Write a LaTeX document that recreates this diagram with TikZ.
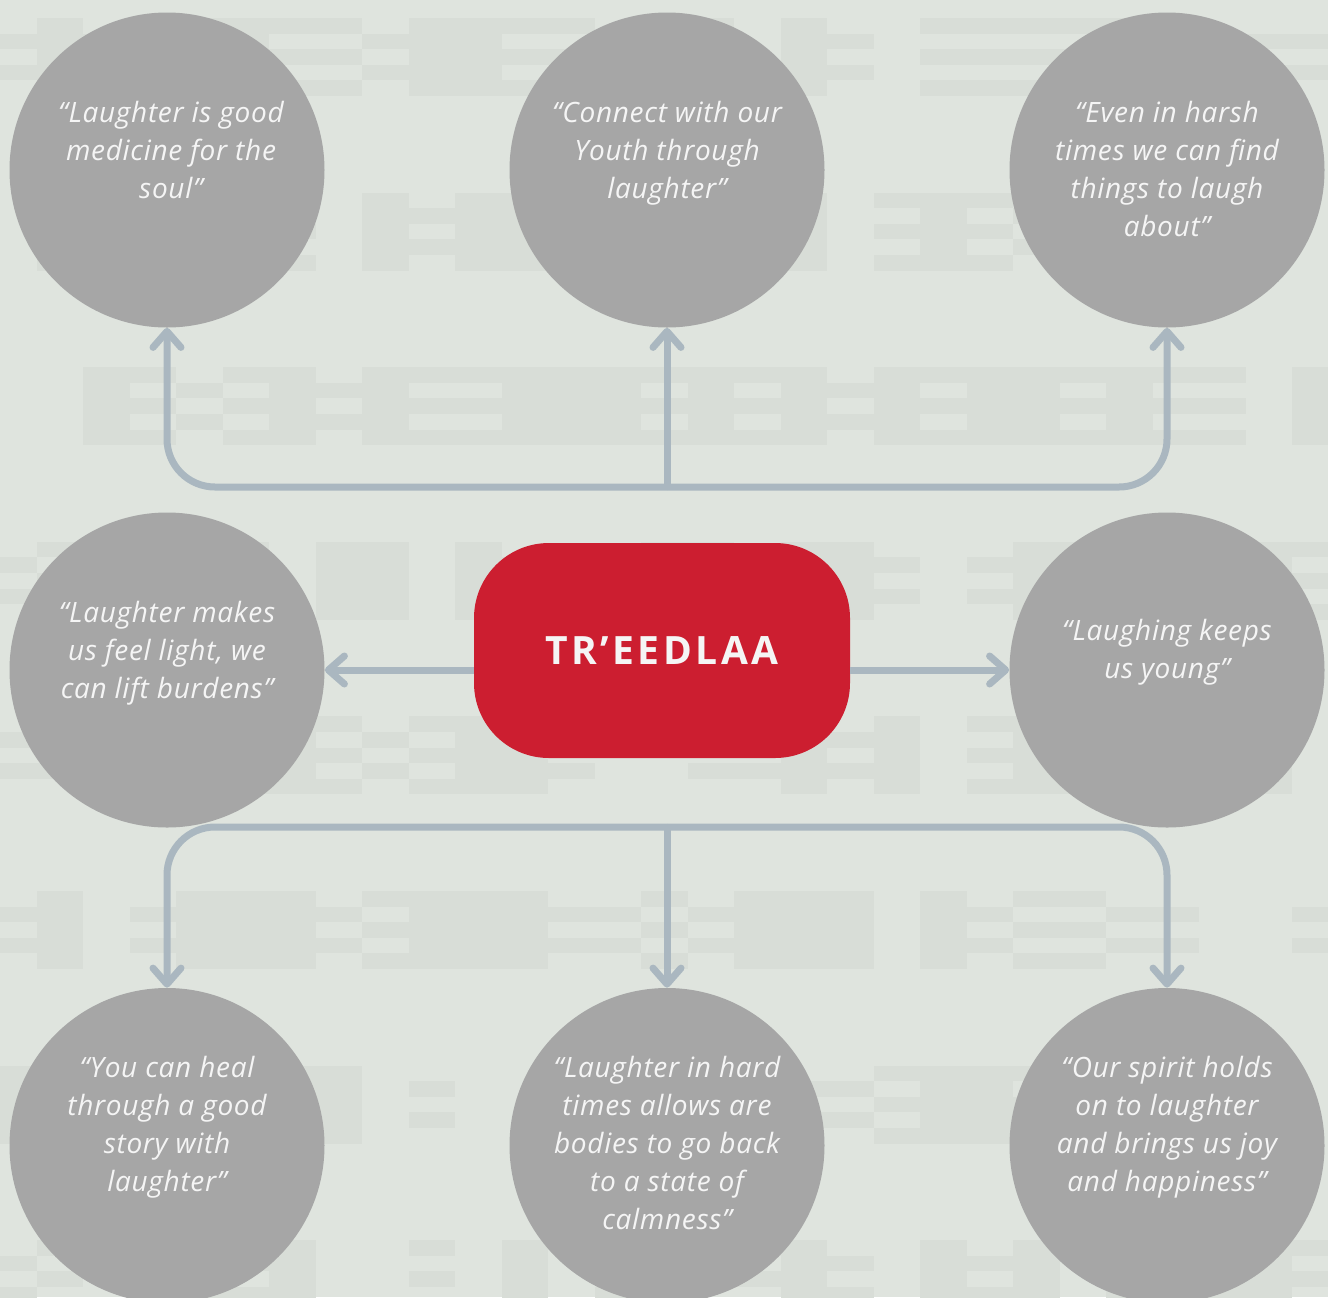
\documentclass[tikz,border=0pt]{standalone}
\usepackage{fontspec}
\setmainfont{Open Sans}
\newfontfamily\titlefont[LetterSpace=9]{Open Sans}
\newfontfamily\qfont[LetterSpace=2.5]{Open Sans}
\usetikzlibrary{arrows.meta}
\definecolor{bgc}{RGB}{223,228,222}
\definecolor{bandc}{RGB}{216,221,215}
\definecolor{circc}{RGB}{166,166,166}
\definecolor{redc}{RGB}{204,30,48}
\definecolor{linec}{RGB}{170,183,192}
\definecolor{txtc}{RGB}{245,245,245}
\newcommand\quotefont{\qfont\fontsize{14pt}{19pt}\selectfont\itshape}
\tikzset{
  bubble/.style={circle, fill=circc, minimum size=157.5pt, inner sep=0pt},
  quote/.style={text=txtc, font=\quotefont, align=center, inner sep=0pt, anchor=north},
  titlebox/.style={rectangle, fill=redc, rounded corners=37.5pt, minimum width=188pt, minimum height=107.5pt, inner sep=0pt, text=txtc, font=\titlefont\bfseries\fontsize{19.5pt}{22pt}\selectfont},
  arr/.style={draw=linec, line width=3.5pt, rounded corners=24pt, -{Straight Barb[length=8pt,width=14pt,round]}},
  band/.style={fill=bandc, draw=none}
}
\begin{document}
\begin{tikzpicture}[x=0.5pt,y=-0.5pt]
\useasboundingbox (0,0) rectangle (1328,1297);
\clip (0,0) rectangle (1328,1297);
\fill[bgc] (0,0) rectangle (1328,1297);
% background bands
\pgfmathsetseed{4711}
\foreach \b in {0,...,7} {
  \pgfmathsetmacro\yy{18+174.6*\b}
  \foreach \c in {0,...,28} {
    \pgfmathrandominteger{\t}{0}{4}
    \pgfmathsetmacro\xx{\c*46.5-10}
    \ifcase\t
      \fill[band] (\xx,\yy) rectangle ++(46.5,78);
    \or
      \fill[band] (\xx,\yy+15.6) rectangle ++(46.5,15.6);
      \fill[band] (\xx,\yy+46.8) rectangle ++(46.5,15.6);
    \or
      \fill[band] (\xx,\yy) rectangle ++(46.5,15.6);
      \fill[band] (\xx,\yy+31.2) rectangle ++(46.5,15.6);
      \fill[band] (\xx,\yy+62.4) rectangle ++(46.5,15.6);
    \or
      \fill[band] (\xx,\yy) rectangle ++(46.5,78);
    \else
    \fi
  }
}
% circles
\node[bubble] (c1) at (167,170) {};
\node[bubble] (c2) at (667,170) {};
\node[bubble] (c3) at (1167,170) {};
\node[bubble] (c4) at (167,670) {};
\node[bubble] (c5) at (1167,670) {};
\node[bubble] (c6) at (167,1145.5) {};
\node[bubble] (c7) at (667,1145.5) {};
\node[bubble] (c8) at (1167,1145.5) {};
% centre box
\node[titlebox] (box) at (662,650.5) {TR’EEDLAA};
% quotes
\node[quote] (q1) at (171,101) {“Laughter is good\\medicine for the\\soul”};
\node[quote] (q2) at (667,101) {“Connect with our\\Youth through\\laughter”};
\node[quote] (q3) at (1167,101) {“Even in harsh\\times we can find\\things to laugh\\about”};
\node[quote] (q4) at (167,601) {“Laughter makes\\us feel light, we\\can lift burdens”};
\node[quote] (q5) at (1167,619) {“Laughing keeps\\us young”};
\node[quote] (q6) at (167,1056) {“You can heal\\through a good\\story with\\laughter”};
\node[quote] (q7) at (667,1056) {“Laughter in hard\\times allows are\\bodies to go back\\to a state of\\calmness”};
\node[quote] (q8) at (1167,1056) {“Our spirit holds\\on to laughter\\and brings us joy\\and happiness”};
% connectors
\coordinate (topj) at (667,487);
\coordinate (botj) at (667,827);
\draw[arr] (topj) -| (c1.south);
\draw[arr] (topj) -- (c2.south);
\draw[arr] (topj) -| (c3.south);
\draw[arr] (botj) -| (c6.north);
\draw[arr] (botj) -- (c7.north);
\draw[arr] (botj) -| (c8.north);
\draw[arr] (box.west |- c4.east) -- (c4.east);
\draw[arr] (box.east |- c5.west) -- (c5.west);
\end{tikzpicture}
\end{document}
